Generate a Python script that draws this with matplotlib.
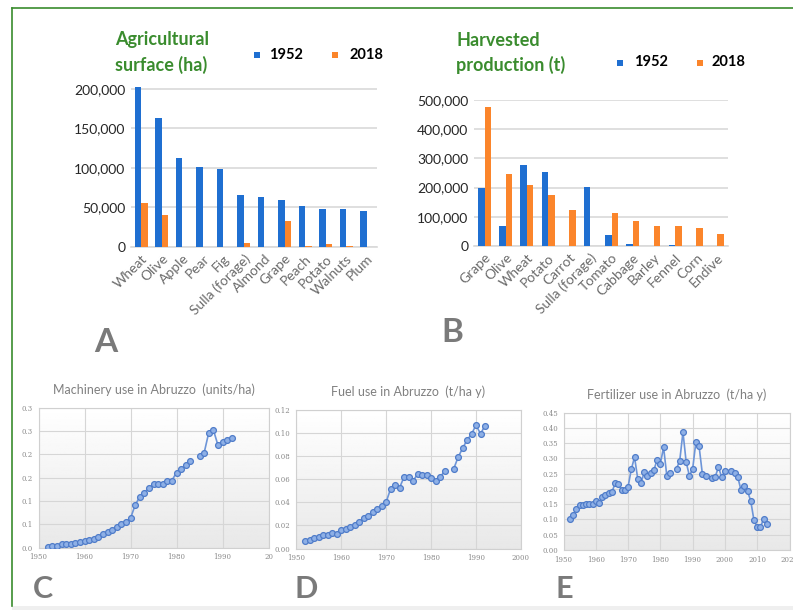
import numpy as np
import matplotlib
matplotlib.use("Agg")
import matplotlib.pyplot as plt
from matplotlib.patches import Rectangle
from matplotlib.lines import Line2D

W, H = 793, 610
nan = np.nan

# === BAR DATA ===
crops_surface = ["Wheat", "Olive", "Apple", "Pear", "Fig", "Sulla (forage)", "Almond",
                 "Grape", "Peach", "Potato", "Walnuts", "Plum"]
surface_1952 = [203000, 163000, 112000, 101000, 99000, 66000, 63000, 60000, 52000, 48000, 48000, 45000]
surface_2018 = [56000, 41000, 0, 0, 0, 5000, 0, 32500, 1500, 4000, 800, 0]
surface_ticks = [0, 50000, 100000, 150000, 200000]

crops_prod = ["Grape", "Olive", "Wheat", "Potato", "Carrot", "Sulla (forage)", "Tomato",
              "Cabbage", "Barley", "Fennel", "Corn", "Endive"]
prod_1952 = [200000, 70000, 278000, 252000, 0, 202000, 38000, 7000, 0, 3000, 0, 0]
prod_2018 = [475000, 247000, 208000, 175000, 122000, 0, 112000, 85000, 67000, 67000, 63000, 42000]
prod_ticks = [0, 100000, 200000, 300000, 400000, 500000]

# === LINE DATA ===
mach_years = list(range(1952, 1993))
machinery = [0.002, 0.003, 0.003, 0.008, 0.009, 0.009, 0.011, 0.013, 0.014, 0.016,
             0.019, 0.024, 0.029, 0.033, 0.039, 0.044, 0.050, 0.056, 0.063,
             0.091, 0.109, 0.118, 0.128, 0.136, 0.137, 0.136, 0.142, 0.144, 0.161,
             0.168, 0.178, 0.186, nan,
             0.196, 0.203, 0.246, 0.253, 0.220, 0.226, 0.231, 0.236]
mach_yticks = [0, 0.05, 0.10, 0.15, 0.20, 0.25, 0.30]
mach_ylabels = ["0.0", "0.1", "0.1", "0.2", "0.2", "0.3", "0.3"]
mach_xticks = [1950, 1960, 1970, 1980, 1990, 2000]
mach_xlabels = ["1950", "1960", "1970", "1980", "1990", "20"]

fuel_years = list(range(1952, 1993))
fuel = [0.0064, 0.0075, 0.0087, 0.0101, 0.0121, 0.0116, 0.0136, 0.0124, 0.0156, 0.0168,
        0.0188, 0.0205, 0.0228, 0.0263, 0.0283, 0.0315, 0.0338, 0.0367, 0.0399,
        0.0514, 0.0546, 0.0526, 0.0618, 0.0616, 0.0584, 0.0644, 0.0633, 0.0633, 0.0613,
        0.0587, 0.0616, 0.0670, nan,
        0.0685, 0.0789, 0.0867, 0.0939, 0.0991, 0.1069, 0.0994, 0.1064]
fuel_yticks = [0, 0.02, 0.04, 0.06, 0.08, 0.10, 0.12]
fuel_ylabels = ["0.00", "0.02", "0.04", "0.06", "0.08", "0.10", "0.12"]
fuel_xticks = [1950, 1960, 1970, 1980, 1990, 2000]
fuel_xlabels = ["1950", "1960", "1970", "1980", "1990", "2000"]

fert_years = list(range(1952, 2014))
fertilizer = [0.100, 0.114, 0.135, 0.146, 0.146, 0.149, 0.149, 0.149, 0.162, 0.153,
              0.172, 0.179, 0.185, 0.190, 0.218, 0.216, 0.198, 0.198, 0.207, 0.264,
              0.304, 0.233, 0.219, 0.254, 0.241, 0.253, 0.262, 0.295, 0.283, 0.336,
              0.243, 0.252, nan,
              0.266, 0.292, 0.386, 0.287, 0.243, 0.265, 0.353, 0.339, 0.250, 0.241, nan,
              0.237, 0.240, 0.271, 0.238, 0.259, nan,
              0.259, 0.253, 0.238, 0.195, 0.210, 0.193, 0.160, 0.097, 0.075, 0.076,
              0.101, 0.085]
fert_yticks = [0, 0.05, 0.10, 0.15, 0.20, 0.25, 0.30, 0.35, 0.40, 0.45]
fert_ylabels = ["0.00", "0.05", "0.10", "0.15", "0.20", "0.25", "0.30", "0.35", "0.40", "0.45"]
fert_xticks = [1950, 1960, 1970, 1980, 1990, 2000, 2010, 2020]
fert_xlabels = ["1950", "1960", "1970", "1980", "1990", "2000", "2010", "2020"]

BLUE = "#1f6fd1"
ORANGE = "#fb852b"
GREEN = "#3a8c2e"
LETTER = "#7a7a7a"
SANS = ["Lato", "DejaVu Sans"]

plt.rcParams["font.family"] = SANS

fig = plt.figure(figsize=(W / 100, H / 100), dpi=100)


def px_axes(x0, y0, x1, y1):
    return fig.add_axes([x0 / W, 1 - y1 / H, (x1 - x0) / W, (y1 - y0) / H])


def ftext(x, y, s, **kw):
    fig.text(x / W, 1 - y / H, s, **kw)


def bar_panel(ax, cats, v1952, v2018, ticks, ymax):
    x = np.arange(len(cats))
    w = 0.31
    ax.bar(x - w / 2, v1952, w, color=BLUE, zorder=3)
    ax.bar(x + w / 2, v2018, w, color=ORANGE, zorder=3)
    ax.set_xlim(-0.5, len(cats) - 0.5)
    ax.set_ylim(0, ymax)
    ax.set_yticks(ticks)
    ax.set_yticklabels([f"{t:,}" for t in ticks], fontsize=10, color="#262626")
    ax.set_xticks(x)
    ax.set_xticklabels(cats, rotation=45, ha="right", rotation_mode="anchor",
                       fontsize=10, color="#6b6b6b")
    ax.tick_params(length=0, pad=4)
    ax.grid(axis="y", color="#d9d9d9", lw=1.2, zorder=0)
    for s in ax.spines.values():
        s.set_visible(False)
    ax.spines["bottom"].set_visible(True)
    ax.spines["bottom"].set_color("#d9d9d9")
    ax.spines["bottom"].set_linewidth(1.2)
    ax.patch.set_alpha(0)


def line_panel(ax, years, vals, xlim, ylim, xticks, xlabels, yticks, ylabels, title):
    grad = np.linspace(0.91, 1.0, 100).reshape(-1, 1)
    ax.imshow(grad, extent=[0, 1, 0, 1], transform=ax.transAxes, aspect="auto",
              cmap="gray", vmin=0, vmax=1, origin="lower", zorder=0)
    ax.plot(years, vals, color="#6d95d8", lw=1.2, marker="o", ms=4.2,
            mfc="#8eb0e6", mec="#4f7cc9", mew=0.9, zorder=3)
    ax.set_xlim(*xlim)
    ax.set_ylim(*ylim)
    ax.set_xticks(xticks)
    ax.set_xticklabels(xlabels, fontsize=5, color="#8a8a8a", family="DejaVu Serif")
    ax.set_yticks(yticks)
    ax.set_yticklabels(ylabels, fontsize=5, color="#8a8a8a", family="DejaVu Serif")
    ax.tick_params(length=0, pad=4)
    ax.grid(True, color="#d6d6d6", lw=0.8, zorder=1)
    for s in ax.spines.values():
        s.set_color("#d0d0d0")
        s.set_linewidth(0.8)
    ax.set_title(title, fontsize=9, color="#808080", pad=10)


# frame lines around the composite
fig.add_artist(Line2D([12 / W, 1], [1 - 8 / H, 1 - 8 / H], color=GREEN, lw=1.2))
fig.add_artist(Line2D([12 / W, 12 / W], [1 - 8 / H, 1 - 606 / H], color=GREEN, lw=1.2))
fig.add_artist(Rectangle((12 / W, 0), 1 - 12 / W, 4 / H, transform=fig.transFigure,
                         color="#efefef", lw=0))

# A: agricultural surface
axA = px_axes(131, 85, 377, 247)
bar_panel(axA, crops_surface, surface_1952, surface_2018, surface_ticks, 205000)
ftext(115, 40, "Agricultural", fontsize=13, fontweight="bold", color=GREEN, va="center")
ftext(115, 65, "surface (ha)", fontsize=13, fontweight="bold", color=GREEN, va="center")
fig.add_artist(Rectangle((254 / W, 1 - 58 / H), 6 / W, 6 / H, transform=fig.transFigure,
                         color=BLUE, lw=0))
ftext(269, 55, "1952", fontsize=10.5, fontweight="bold", va="center")
fig.add_artist(Rectangle((332 / W, 1 - 58 / H), 6 / W, 6 / H, transform=fig.transFigure,
                         color=ORANGE, lw=0))
ftext(350, 55, "2018", fontsize=10.5, fontweight="bold", va="center")
ftext(106, 343, "A", fontsize=24, fontweight="bold", color=LETTER, ha="center", va="center")

# B: harvested production
axB = px_axes(474, 100, 728, 246)
bar_panel(axB, crops_prod, prod_1952, prod_2018, prod_ticks, 500000)
ftext(456, 40, "Harvested", fontsize=13, fontweight="bold", color=GREEN, va="center")
ftext(456, 65, "production (t)", fontsize=13, fontweight="bold", color=GREEN, va="center")
fig.add_artist(Rectangle((617 / W, 1 - 66 / H), 6 / W, 6 / H, transform=fig.transFigure,
                         color=BLUE, lw=0))
ftext(634, 62, "1952", fontsize=10.5, fontweight="bold", va="center")
fig.add_artist(Rectangle((697 / W, 1 - 66 / H), 6 / W, 6 / H, transform=fig.transFigure,
                         color=ORANGE, lw=0))
ftext(711, 62, "2018", fontsize=10.5, fontweight="bold", va="center")
ftext(452, 333, "B", fontsize=24, fontweight="bold", color=LETTER, ha="center", va="center")

# C, D, E: input use over time
axC = px_axes(38.5, 407.7, 268.5, 547.7)
line_panel(axC, mach_years, machinery, (1950, 2000), (0, 0.3), mach_xticks, mach_xlabels,
           mach_yticks, mach_ylabels, "Machinery use in Abruzzo  (units/ha)")
axD = px_axes(296, 410, 521, 548.5)
line_panel(axD, fuel_years, fuel, (1950, 2000), (0, 0.12), fuel_xticks, fuel_xlabels,
           fuel_yticks, fuel_ylabels, "Fuel use in Abruzzo  (t/ha y)")
axE = px_axes(563.5, 412.5, 789.5, 550)
line_panel(axE, fert_years, fertilizer, (1950, 2020), (0, 0.45), fert_xticks, fert_xlabels,
           fert_yticks, fert_ylabels, "Fertilizer use in Abruzzo  (t/ha y)")

ftext(43, 589, "C", fontsize=22, fontweight="bold", color=LETTER, ha="center", va="center")
ftext(306, 589, "D", fontsize=22, fontweight="bold", color=LETTER, ha="center", va="center")
ftext(564, 589, "E", fontsize=22, fontweight="bold", color=LETTER, ha="center", va="center")

fig.savefig("out.png", dpi=100)
